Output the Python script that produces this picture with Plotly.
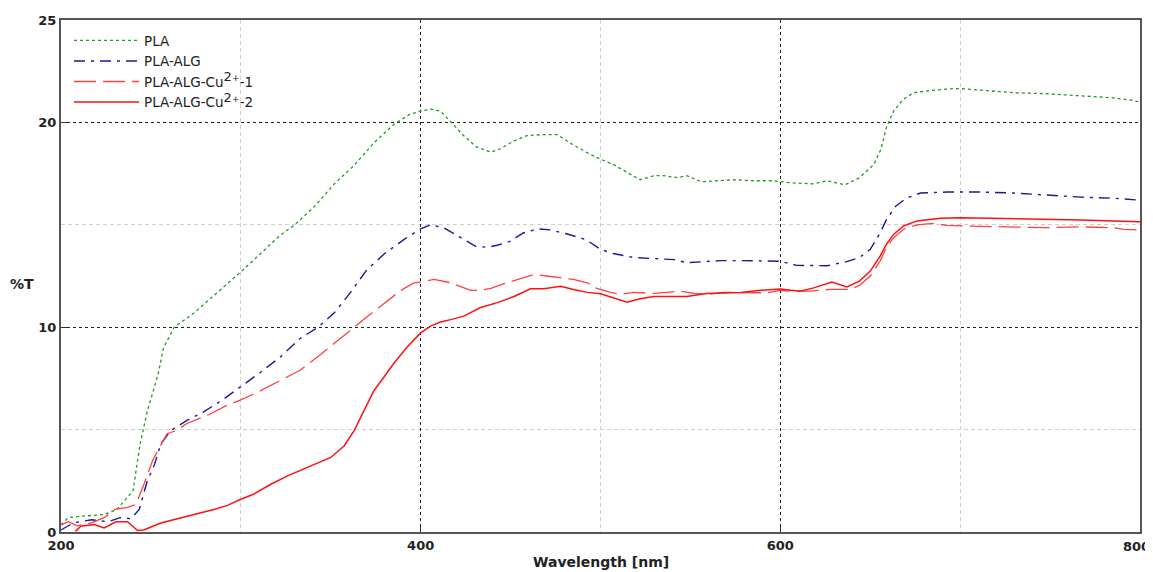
import plotly.graph_objects as go

# ---- data ----
wl_pla = [200, 204, 211, 224, 231, 240, 244, 248, 254, 257, 263, 274, 287, 300, 311, 322, 330, 341, 352, 363, 374, 385, 394, 400, 406, 411, 417, 424, 431, 439, 444, 452, 459, 467, 476, 483, 493, 500, 507, 515, 522, 530, 535, 543, 548, 556, 567, 574, 585, 596, 606, 618, 626, 636, 644, 652, 656, 659, 663, 668, 674, 683, 696, 700, 715, 730, 748, 767, 785, 794, 800]
t_pla = [0.35, 0.7, 0.77, 0.85, 1.1, 2.0, 4.3, 5.9, 7.7, 9.0, 10.0, 10.7, 11.7, 12.7, 13.6, 14.5, 15.0, 15.9, 17.0, 17.9, 19.0, 19.9, 20.4, 20.55, 20.65, 20.55, 20.0, 19.35, 18.8, 18.55, 18.7, 19.1, 19.35, 19.4, 19.4, 19.0, 18.5, 18.2, 17.95, 17.55, 17.2, 17.4, 17.4, 17.3, 17.4, 17.1, 17.15, 17.2, 17.15, 17.15, 17.05, 17.0, 17.15, 16.95, 17.3, 17.95, 18.7, 19.75, 20.55, 21.1, 21.45, 21.55, 21.65, 21.65, 21.55, 21.45, 21.4, 21.3, 21.2, 21.1, 21.0]

wl_alg = [200, 207, 217, 226, 233, 239, 243.5, 248, 252, 255.5, 261, 270, 278, 289, 300, 311, 322, 333, 343, 352, 361, 370, 380, 391, 400, 405.5, 413, 422, 430.5, 437, 442.6, 450, 457, 465, 472, 481.5, 491, 495, 500, 507, 518.5, 529.6, 541, 548, 555.5, 566.7, 578, 589, 600, 609, 626, 637, 644, 650, 655.5, 659, 664, 670, 678, 692.6, 711, 730, 748, 767, 785, 800]
t_alg = [0.1, 0.45, 0.6, 0.5, 0.7, 0.65, 1.1, 2.5, 3.3, 4.3, 4.95, 5.45, 5.8, 6.4, 7.1, 7.8, 8.55, 9.45, 10.0, 10.7, 11.7, 12.8, 13.6, 14.3, 14.8, 15.0, 14.85, 14.4, 13.95, 13.9, 14.0, 14.2, 14.6, 14.8, 14.75, 14.55, 14.3, 14.1, 13.8, 13.6, 13.4, 13.35, 13.3, 13.15, 13.2, 13.25, 13.25, 13.25, 13.22, 13.02, 13.0, 13.2, 13.4, 13.8, 14.6, 15.25, 15.9, 16.3, 16.55, 16.6, 16.6, 16.55, 16.45, 16.35, 16.3, 16.2]

wl_cu1 = [200, 204, 209, 217, 224, 230, 237, 241.7, 246, 251, 254.6, 259, 264, 270, 281.5, 292.6, 300, 311, 322, 333, 342.6, 352, 361, 370, 380, 389, 396, 400, 407.4, 416.7, 427.8, 433, 439, 448, 455.6, 463, 470, 477.8, 485, 492.6, 498, 505.5, 511, 518.5, 529.6, 537, 544, 552, 559, 568.5, 581.5, 592.6, 600, 605.5, 616.7, 628, 639, 644, 650, 655.5, 659, 663, 668.5, 676, 685, 692.6, 703.7, 730, 748, 767, 785, 791, 800]
t_cu1 = [0.35, 0.5, 0.3, 0.45, 0.7, 1.1, 1.2, 1.35, 2.3, 3.5, 4.1, 4.8, 4.95, 5.3, 5.7, 6.2, 6.45, 6.9, 7.4, 7.9, 8.55, 9.2, 9.85, 10.5, 11.2, 11.8, 12.15, 12.2, 12.33, 12.17, 11.8, 11.8, 11.9, 12.17, 12.36, 12.57, 12.5, 12.4, 12.33, 12.17, 11.9, 11.7, 11.6, 11.7, 11.65, 11.7, 11.76, 11.65, 11.6, 11.7, 11.7, 11.68, 11.8, 11.76, 11.76, 11.85, 11.85, 12.04, 12.5, 13.23, 13.9, 14.37, 14.78, 15.0, 15.07, 14.97, 14.94, 14.9, 14.86, 14.9, 14.86, 14.78, 14.75]

wl_cu2 = [208, 211, 218.5, 224, 230.5, 237, 242.6, 246, 255.5, 263, 274, 285, 292.6, 300, 307, 316.7, 326, 335, 344.4, 350, 357.4, 363, 368.5, 374, 379.6, 385, 392.6, 400, 405.5, 411, 416.7, 424, 433, 442.6, 451.9, 461, 468.5, 477.8, 485, 492.6, 500, 507.4, 514.8, 522, 529.6, 540.7, 548, 559, 566.7, 578, 589, 600, 611, 618.5, 628.7, 637, 644, 650, 655.5, 659, 663, 668.5, 676, 689, 700, 726, 748, 767, 785, 800]
t_cu2 = [0.03, 0.28, 0.36, 0.2, 0.5, 0.5, 0.07, 0.1, 0.44, 0.6, 0.85, 1.1, 1.3, 1.6, 1.84, 2.33, 2.74, 3.07, 3.4, 3.64, 4.2, 4.95, 5.93, 6.9, 7.57, 8.23, 9.05, 9.72, 10.05, 10.25, 10.37, 10.54, 10.95, 11.2, 11.5, 11.88, 11.88, 12.0, 11.84, 11.7, 11.63, 11.44, 11.22, 11.39, 11.5, 11.5, 11.5, 11.65, 11.68, 11.7, 11.8, 11.87, 11.76, 11.92, 12.2, 11.97, 12.25, 12.74, 13.47, 14.05, 14.53, 14.94, 15.19, 15.32, 15.35, 15.32, 15.27, 15.24, 15.19, 15.15]

series_names = ["PLA", "PLA-ALG",
                "PLA-ALG-Cu<sup><span style='font-size:13px'>2</span>+</sup>-1",
                "PLA-ALG-Cu<sup><span style='font-size:13px'>2</span>+</sup>-2"]
x_ticks = [200, 400, 600, 800]
# the label of the last tick is drawn separately (right-aligned) so it stays in the window
x_tick_labels = ["200", "400", "600", ""]
x_last_label = "800"
x_minor = [300, 500, 700]
y_ticks = [0, 10, 20, 25]
y_minor = [5, 15]

fig = go.Figure()
fig.add_trace(go.Scatter(x=wl_pla, y=t_pla, mode="lines", name=series_names[0],
                         line=dict(color="#1f9a1f", width=1.3, dash="3px,3px")))
fig.add_trace(go.Scatter(x=wl_alg, y=t_alg, mode="lines", name=series_names[1],
                         line=dict(color="#1a1a96", width=1.4, dash="11px,6px,3px,6px")))
fig.add_trace(go.Scatter(x=wl_cu1, y=t_cu1, mode="lines", name=series_names[2],
                         line=dict(color="#ff4040", width=1.3, dash="22px,7px")))
fig.add_trace(go.Scatter(x=wl_cu2, y=t_cu2, mode="lines", name=series_names[3],
                         line=dict(color="#ff1010", width=1.5)))

# page body has an 8px margin: the figure's origin sits at (8, 8) on screen
fig.update_layout(
    width=1145, height=564,
    margin=dict(l=53, r=13, t=12, b=40, autoexpand=False),
    paper_bgcolor="white", plot_bgcolor="white",
    font=dict(family="DejaVu Sans", size=13, color="#222"),
    showlegend=True,
    legend=dict(x=0.0074, y=0.99, xanchor="left", yanchor="top",
                bgcolor="rgba(0,0,0,0)", borderwidth=0,
                font=dict(family="DejaVu Sans", size=13.5, color="#222"),
                itemwidth=65, tracegroupgap=0),
)
fig.update_xaxes(
    range=[200, 800], tickvals=x_ticks, ticktext=x_tick_labels,
    ticks="inside", ticklen=6, tickcolor="#333",
    showline=True, linecolor="#555", linewidth=2, mirror=True,
    showgrid=True, gridcolor="#222", griddash="3px,3px", gridwidth=1,
    tickfont=dict(family="DejaVu Sans", size=13, color="#222", weight="bold"),
    automargin=False,
    minor=dict(tickvals=x_minor, showgrid=True, gridcolor="#cfcfcf", griddash="4px,3px", gridwidth=1),
    zeroline=False,
)
fig.update_yaxes(
    range=[0, 25], tickvals=y_ticks, ticks="inside", ticklen=6, tickcolor="#333",
    showline=True, linecolor="#555", linewidth=2, mirror=True,
    showgrid=True, gridcolor="#222", griddash="3px,3px", gridwidth=1,
    tickfont=dict(family="DejaVu Sans", size=13, color="#222", weight="bold"),
    automargin=False,
    minor=dict(tickvals=y_minor, showgrid=True, gridcolor="#cfcfcf", griddash="4px,3px", gridwidth=1),
    zeroline=False,
)
fig.add_annotation(text=x_last_label, xref="x", yref="paper", x=x_ticks[-1], y=0,
                   xanchor="right", yanchor="middle", xshift=12, yshift=-14,
                   showarrow=False,
                   font=dict(family="DejaVu Sans", size=13, color="#222", weight="bold"))
fig.add_annotation(text="%T", xref="paper", yref="paper", x=-0.036, y=0.484,
                   xanchor="center", yanchor="middle", showarrow=False,
                   font=dict(family="DejaVu Sans", size=14, color="#222", weight="bold"))
fig.add_annotation(text="Wavelength [nm]", xref="paper", yref="paper", x=0.5, y=-0.058,
                   xanchor="center", yanchor="middle", showarrow=False,
                   font=dict(family="DejaVu Sans", size=14, color="#222", weight="bold"))

fig.write_html("out.html")
